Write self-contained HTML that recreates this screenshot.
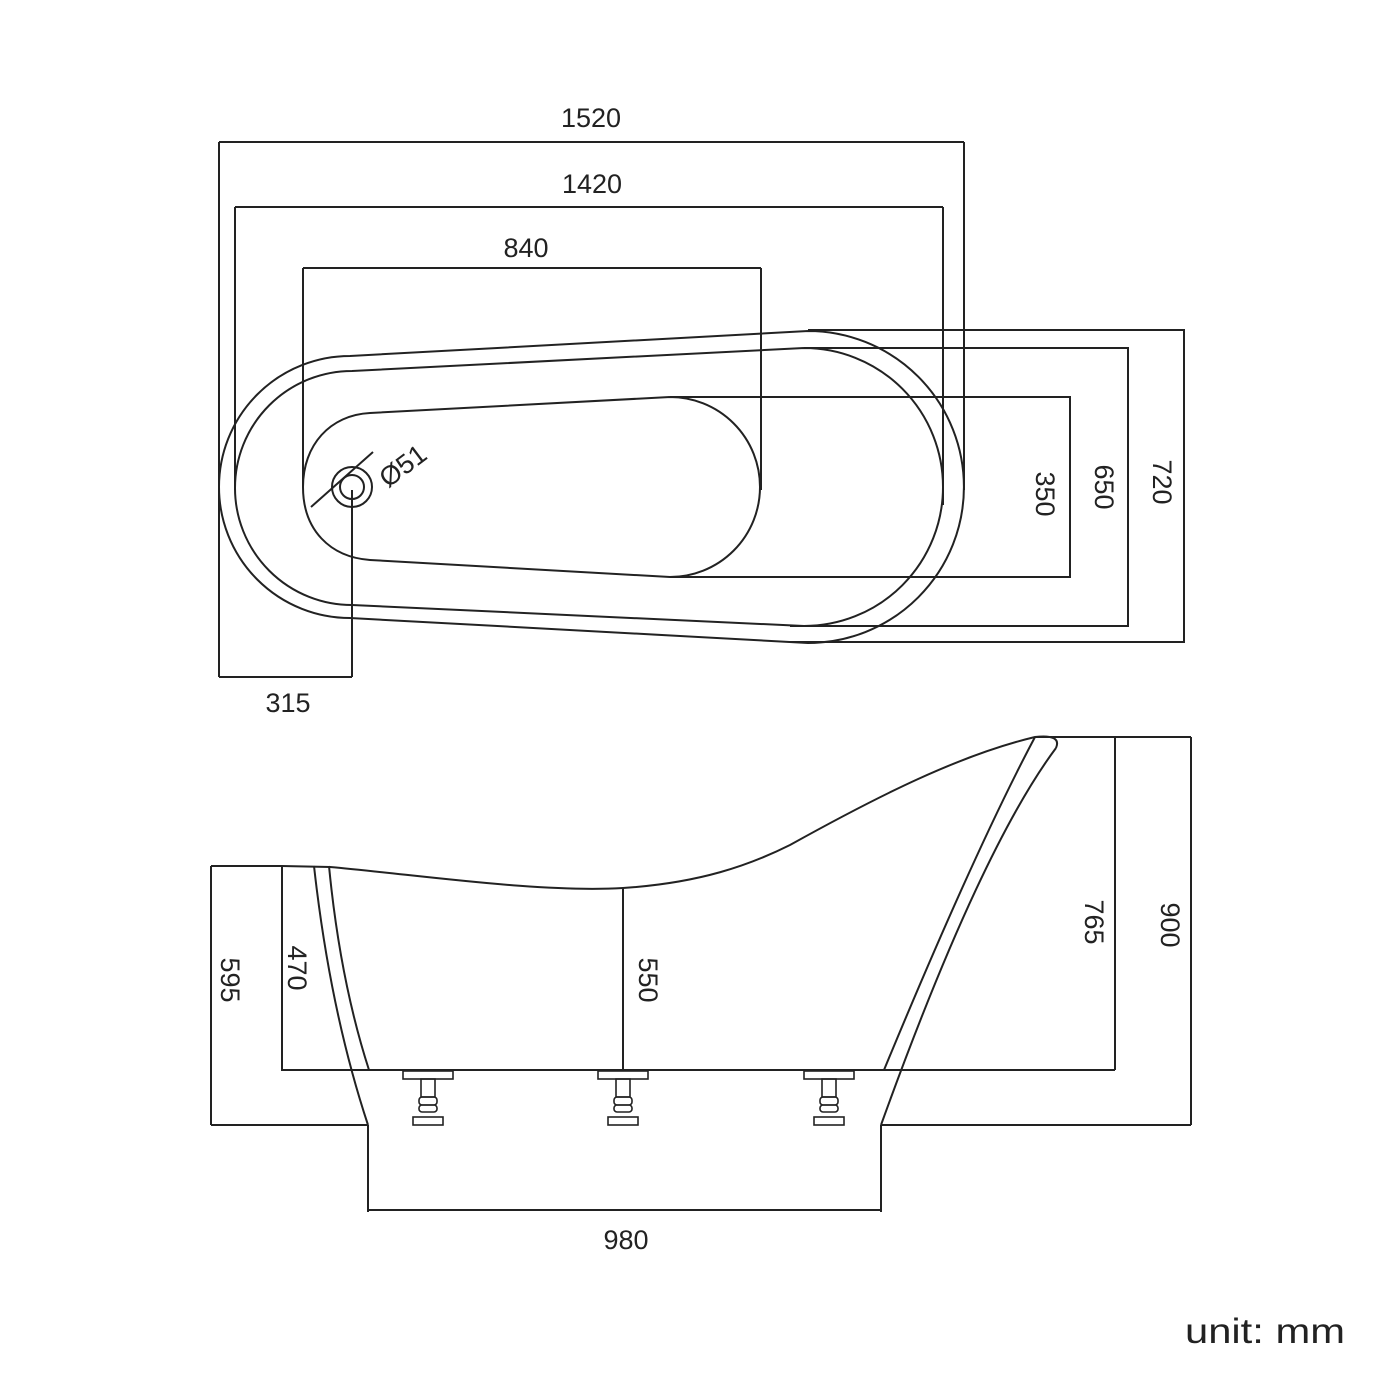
<!DOCTYPE html>
<html><head><meta charset="utf-8"><style>
html,body{margin:0;padding:0;background:#fff}
svg{display:block}
text{font-family:"Liberation Sans",sans-serif;fill:#222;font-size:27px}
</style></head><body>
<svg width="1400" height="1400" viewBox="0 0 1400 1400" xmlns="http://www.w3.org/2000/svg">
<g fill="none" stroke="#222" stroke-width="2">
<path d="M219 142H964M219 142V677M964 142V490"/>
<path d="M235 207H943M235 207V490M943 207V505"/>
<path d="M303 268H761M303 268V487M761 268V490"/>
<path d="M219 677H352M352 490V677"/>
<path d="M670 397H1070V577H670"/>
<path d="M804 348H1128V626H790"/>
<path d="M808 330H1184V642H790"/>
<path d="M808 331 L350 356 A131 131 0 0 0 350 618 L808 643 A156 156 0 0 0 808 331"/>
<path d="M804 348 L352 371 A117 117 0 0 0 352 605 L804 626 A139 139 0 0 0 804 348"/>
<path d="M670 397 L370 413 C330 415 303 445 303 487 C303 530 330 557 370 560 L670 577 A90 90 0 0 0 670 397"/>
<circle cx="352" cy="487" r="20"/>
<circle cx="352" cy="487" r="12"/>
<path d="M311 507 L373 452"/>
<path d="M211 1125H368M881 1125H1191"/>
<path d="M211 866V1125M211 866H282"/>
<path d="M282 866V1070H1115"/>
<path d="M623 888V1070"/>
<path d="M1115 737V1070M1035 737H1191M1191 737V1125"/>
<path d="M368 1125V1212M881 1125V1212M368 1210H881"/>
<path d="M282 866 L330 867 C420 875 540 893 623 888 C700 883 750 865 790 845 C880 795 960 755 1035 737 Q1062 734 1056 748"/>
<path d="M1035 737 Q975 850 884 1070"/>
<path d="M1056 748 Q980 850 881 1125"/>
<path d="M314 866 Q330 1010 368 1125"/>
<path d="M329 866 Q340 980 369 1070"/>
</g>
<g fill="none" stroke="#222" stroke-width="1.6">
<g transform="translate(428 0)"><rect x="-25" y="1071" width="50" height="8"/><rect x="-7" y="1079" width="14" height="18"/><rect x="-9" y="1097" width="18" height="8" rx="3"/><rect x="-9" y="1105" width="18" height="7" rx="3"/><rect x="-15" y="1117" width="30" height="8"/></g>
<g transform="translate(623 0)"><rect x="-25" y="1071" width="50" height="8"/><rect x="-7" y="1079" width="14" height="18"/><rect x="-9" y="1097" width="18" height="8" rx="3"/><rect x="-9" y="1105" width="18" height="7" rx="3"/><rect x="-15" y="1117" width="30" height="8"/></g>
<g transform="translate(829 0)"><rect x="-25" y="1071" width="50" height="8"/><rect x="-7" y="1079" width="14" height="18"/><rect x="-9" y="1097" width="18" height="8" rx="3"/><rect x="-9" y="1105" width="18" height="7" rx="3"/><rect x="-15" y="1117" width="30" height="8"/></g>
</g>
<g text-anchor="middle">
<text x="591" y="127">1520</text>
<text x="592" y="193">1420</text>
<text x="526" y="257">840</text>
<text x="288" y="712">315</text>
<text x="626" y="1249">980</text>
<text transform="translate(403 466) rotate(-37)" x="0" y="9">Ø51</text>
<text transform="translate(1036 494) rotate(90)">350</text>
<text transform="translate(1095 487) rotate(90)">650</text>
<text transform="translate(1153 482) rotate(90)">720</text>
<text transform="translate(221 980) rotate(90)">595</text>
<text transform="translate(288 968) rotate(90)">470</text>
<text transform="translate(639 980) rotate(90)">550</text>
<text transform="translate(1085 922) rotate(90)">765</text>
<text transform="translate(1161 925) rotate(90)">900</text>
</g>
<text x="1185" y="1343" style="font-size:35px" textLength="160" lengthAdjust="spacingAndGlyphs">unit: mm</text>
</svg>
</body></html>
